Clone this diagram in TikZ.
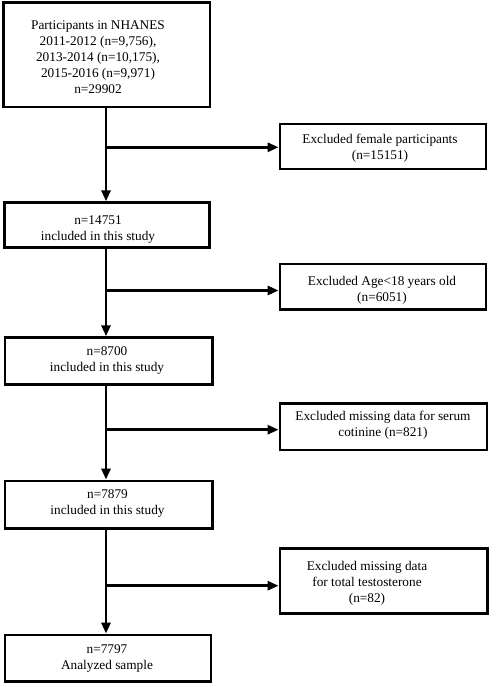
\documentclass[tikz,border=0pt]{standalone}
\usepackage{fontspec}
\setmainfont{Liberation Serif}
\usetikzlibrary{arrows.meta}
\tikzset{
  box/.style={draw=black, line width=2.8pt, inner sep=0pt, rectangle},
  txt/.style={inner sep=0pt, align=center, font=\fontsize{13.3}{16}\selectfont},
  arr/.style={line width=2.8pt, -{Triangle[length=11pt,width=9pt]}},
}
\begin{document}
\begin{tikzpicture}[x=1pt,y=-1pt]
\useasboundingbox (0,0) rectangle (490,685);
% main column boxes
\node[box, minimum width=206.5pt, minimum height=104.5pt] (b1) at (106.75,54.75) {};
\node[box, minimum width=205pt, minimum height=44.6pt] (b2) at (107,225) {};
\node[box, minimum width=207.3pt, minimum height=46.6pt] (b3) at (108.65,361) {};
\node[box, minimum width=207.3pt, minimum height=47.3pt] (b4) at (108.65,504.65) {};
\node[box, minimum width=206pt, minimum height=46.7pt] (b5) at (108,658.35) {};
% exclusion boxes
\node[box, minimum width=206pt, minimum height=45pt] (e1) at (383,146.5) {};
\node[box, minimum width=206pt, minimum height=45.3pt] (e2) at (383,286.65) {};
\node[box, minimum width=207pt, minimum height=46.7pt] (e3) at (383.5,426.65) {};
\node[box, minimum width=207.5pt, minimum height=65pt] (e4) at (383.75,580.8) {};
% texts
\node[txt] (t1) at (98,57) {Participants in NHANES\\2011-2012 (n=9,756),\\2013-2014 (n=10,175),\\2015-2016 (n=9,971)\\n=29902};
\node[txt] (t2) at (98,229.5) {n=14751\\included in this study};
\node[txt] (t3) at (107,361) {n=8700\\included in this study};
\node[txt] (t4) at (107.5,504) {n=7879\\included in this study};
\node[txt] (t5) at (107,658.3) {n=7797\\Analyzed sample};
\node[txt] (te1) at (380,148.4) {Excluded female participants\\(n=15151)};
\node[txt] (te2) at (382,290) {Excluded Age<18 years old\\(n=6051)};
\node[txt] (te3) at (383,425.5) {Excluded missing data for serum\\cotinine (n=821)};
\node[txt] (te4) at (367,583.3) {Excluded missing data\\for total testosterone\\(n=82)};
% junctions on the main vertical line
\coordinate (j1) at (106,147.3);
\coordinate (j2) at (106,290.5);
\coordinate (j3) at (106,429.7);
\coordinate (j4) at (106,585.7);
% vertical connectors
\draw[arr] (j1 |- b1.south) -- (j1 |- b2.north);
\draw[arr] (j2 |- b2.south) -- (j2 |- b3.north);
\draw[arr] (j3 |- b3.south) -- (j3 |- b4.north);
\draw[arr] (j4 |- b4.south) -- (j4 |- b5.north);
% horizontal connectors
\draw[arr] (j1) -- (j1 -| e1.west);
\draw[arr] (j2) -- (j2 -| e2.west);
\draw[arr] (j3) -- (j3 -| e3.west);
\draw[arr] (j4) -- (j4 -| e4.west);
\end{tikzpicture}
\end{document}
